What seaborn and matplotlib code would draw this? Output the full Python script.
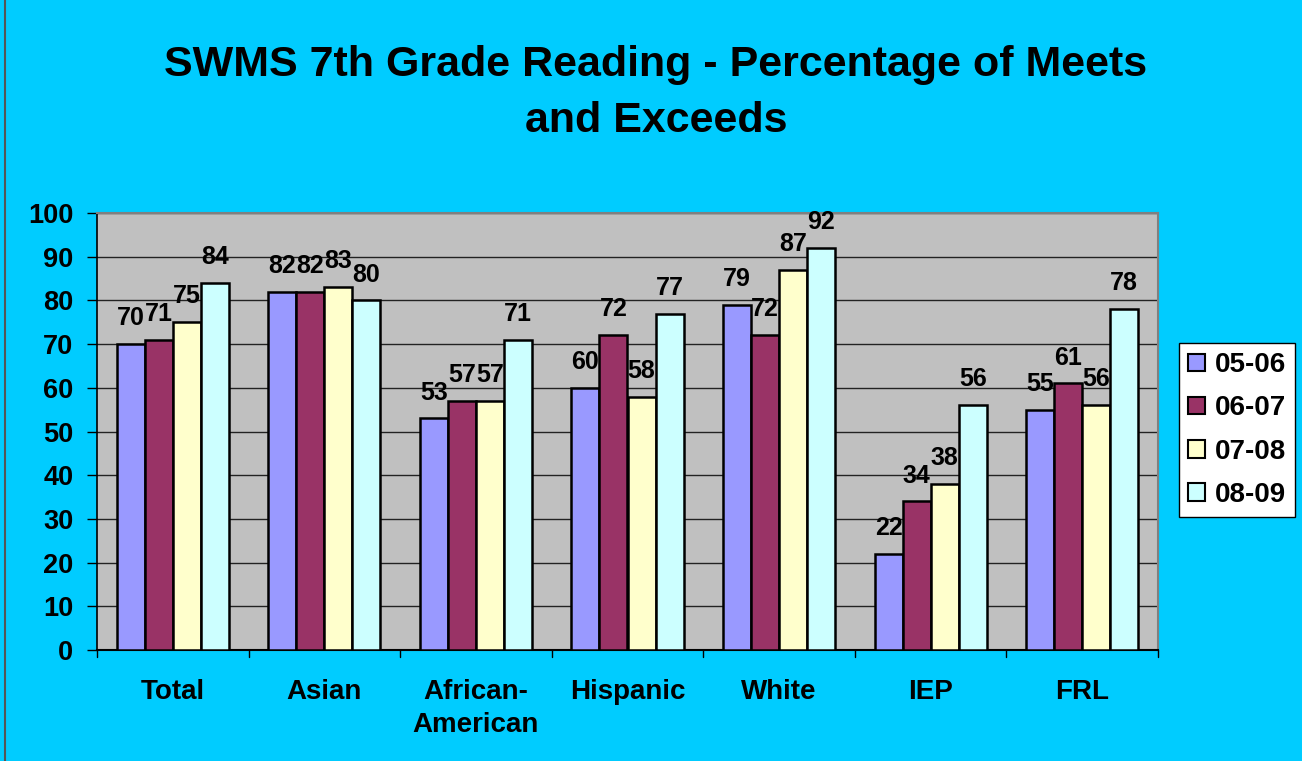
import matplotlib
matplotlib.use("Agg")
import matplotlib.pyplot as plt
import seaborn as sns
import pandas as pd
from matplotlib.patches import Rectangle
from matplotlib.lines import Line2D

categories = ["Total", "Asian", "African-\nAmerican", "Hispanic", "White", "IEP", "FRL"]
years = ["05-06", "06-07", "07-08", "08-09"]
v0506 = [70, 82, 53, 60, 79, 22, 55]
v0607 = [71, 82, 57, 72, 72, 34, 61]
v0708 = [75, 83, 57, 58, 87, 38, 56]
v0809 = [84, 80, 71, 77, 92, 56, 78]
colors = ["#9999FF", "#993366", "#FFFFCC", "#CCFFFF"]

rows = []
for yr, vals in zip(years, [v0506, v0607, v0708, v0809]):
    for c, v in zip(categories, vals):
        rows.append({"Group": c, "Year": yr, "Value": v})
df = pd.DataFrame(rows)

sns.set_theme(style="white")
plt.rcParams["font.family"] = ["Liberation Sans", "DejaVu Sans"]
plt.rcParams["font.weight"] = "bold"
plt.rcParams["text.color"] = "black"
plt.rcParams["xtick.color"] = "black"
plt.rcParams["ytick.color"] = "black"
plt.rcParams["axes.labelcolor"] = "black"

fig = plt.figure(figsize=(13.02, 7.61), dpi=100)
fig.patch.set_facecolor("#00CCFF")
ax = fig.add_axes([97 / 1302, 1 - 650 / 761, (1158 - 97) / 1302, (650 - 213) / 761])
ax.set_facecolor("#C0C0C0")

sns.barplot(data=df, x="Group", y="Value", hue="Year", palette=colors,
            width=0.74, edgecolor="black", linewidth=1.8, saturation=1,
            ax=ax, legend=False, zorder=3)

for cont in ax.containers:
    ax.bar_label(cont, padding=10, fontsize=18, fontweight="bold", color="black")

ax.set_ylim(0, 100)
ax.set_xlim(-0.5, len(categories) - 0.5)
ax.set_yticks(range(0, 101, 10))
ax.yaxis.grid(True, color="#222222", linewidth=1.0, zorder=0)
ax.set_axisbelow(True)
ax.set_xlabel("")
ax.set_ylabel("")
ax.set_xticks(range(len(categories)))
ax.set_xticklabels(categories, fontsize=20, fontweight="bold", linespacing=1.35)
ax.tick_params(axis="x", length=0, pad=21)
ax.tick_params(axis="y", labelsize=19.5, length=7, width=1, color="black", direction="out", left=True, pad=10)
for lab in ax.get_yticklabels():
    lab.set_fontweight("bold")

# category separator ticks below the axis
for b in range(len(categories) + 1):
    ax.plot([b - 0.5, b - 0.5], [0, -1.6], color="black", linewidth=1, clip_on=False, zorder=5)

for side in ["top", "right"]:
    ax.spines[side].set_color("#808080")
    ax.spines[side].set_linewidth(1.5)
ax.spines["left"].set_color("black")
ax.spines["bottom"].set_color("black")
ax.spines["left"].set_linewidth(1.2)
ax.spines["bottom"].set_linewidth(1.5)

fig.text(656 / 1302, 1 - 93 / 761, "SWMS 7th Grade Reading - Percentage of Meets\nand Exceeds",
         ha="center", va="center", fontsize=31, fontweight="bold", linespacing=1.5)

handles = [Rectangle((0, 0), 1, 1, facecolor=c, edgecolor="black", linewidth=1.5) for c in colors]
leg = fig.legend(handles, years, loc="upper left",
                 bbox_to_anchor=(1179 / 1302, 1 - 343 / 761),
                 frameon=True, prop={"weight": "bold", "size": 20},
                 handlelength=0.6, handleheight=0.6, handletextpad=0.35,
                 labelspacing=0.62, borderpad=0.33, borderaxespad=0, fancybox=False,
                 framealpha=1)
leg.get_frame().set_edgecolor("black")
leg.get_frame().set_facecolor("white")
leg.get_frame().set_linewidth(1.0)

fig.add_artist(Line2D([5 / 1302, 5 / 1302], [0, 1], color="#555555", linewidth=1.5))

fig.savefig("out.png", dpi=100, facecolor=fig.get_facecolor())
